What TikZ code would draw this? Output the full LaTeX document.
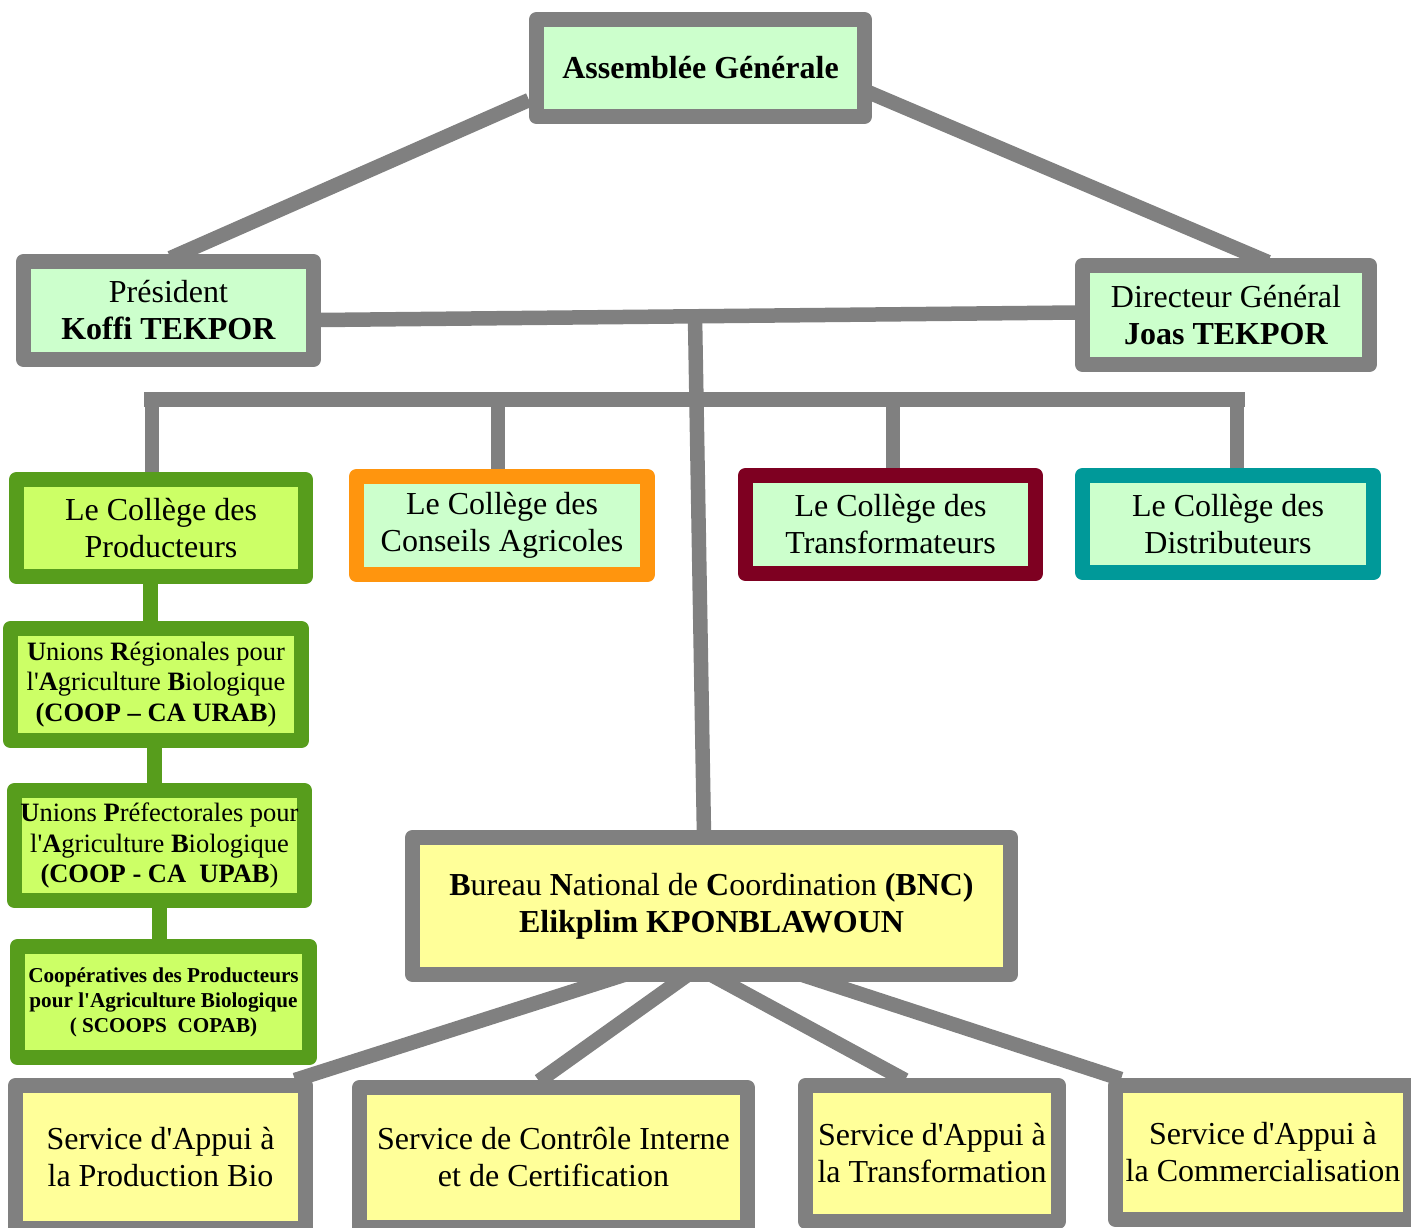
\documentclass[tikz,border=0pt]{standalone}
\usepackage{fontspec}
\setmainfont{Liberation Serif}[Ligatures=TeXOff]
\usetikzlibrary{backgrounds}
\definecolor{lgray}{HTML}{808080}
\definecolor{paleg}{HTML}{CCFFCC}
\definecolor{ygreen}{HTML}{CCFF66}
\definecolor{gbord}{HTML}{579D1C}
\definecolor{obord}{HTML}{FF950E}
\definecolor{rbord}{HTML}{7E0021}
\definecolor{tbord}{HTML}{009999}
\definecolor{yell}{HTML}{FFFF99}
\begin{document}
\begin{tikzpicture}[x=1pt,y=-1pt,
  box/.style={draw=lgray, line width=15pt, line join=round, fill=paleg, inner sep=0pt,
    align=center, text=black, font=\fontsize{32}{37}\selectfont},
  gbox/.style={box, draw=gbord, fill=ygreen},
  ybox/.style={box, fill=yell},
  small/.style={font=\fontsize{26.5}{30.5}\selectfont},
  tiny/.style={font=\fontsize{21.2}{25}\selectfont\bfseries},
  conn/.style={draw=lgray, line width=14.5pt, line cap=butt},
  gconn/.style={draw=gbord, line width=15pt, line cap=butt}]
\useasboundingbox (0,0) rectangle (1411,1227);

% boxes
\node[box, minimum width=328pt, minimum height=97pt] (ag) at (700.5,68) {\textbf{Assemblée Générale}};
\node[box, minimum width=290pt, minimum height=98pt] (pres) at (168.5,310.5) {Président\\\textbf{Koffi TEKPOR}};
\node[box, minimum width=287pt, minimum height=99pt] (dir) at (1226,315) {Directeur Général\\\textbf{Joas TEKPOR}};
\node[gbox, minimum width=289pt, minimum height=97pt] (cp) at (161,528) {Le Collège des\\Producteurs};
\node[box, draw=obord, minimum width=291pt, minimum height=98pt] (cca) at (502,525.5) {Le Collège des\\Conseils Agricoles};
\node[box, draw=rbord, minimum width=290pt, minimum height=98pt] (ct) at (890.5,524.5) {Le Collège des\\Transformateurs};
\node[box, draw=tbord, minimum width=291pt, minimum height=97pt] (cd) at (1228,524) {Le Collège des\\Distributeurs};
\node[gbox, small, minimum width=291pt, minimum height=112pt] (ur) at (156,684.5)
  {\textbf{U}nions \textbf{R}égionales pour\\l'\textbf{A}griculture \textbf{B}iologique\\\textbf{(COOP – CA URAB})};
\node[gbox, small, minimum width=290pt, minimum height=110pt] (up) at (159.5,845.5)
  {\textbf{U}nions \textbf{P}réfectorales pour\\l'\textbf{A}griculture \textbf{B}iologique\\\textbf{(COOP - CA\ \ UPAB})};
\node[gbox, tiny, minimum width=292pt, minimum height=111pt] (coop) at (163.5,1002)
  {Coopératives des Producteurs\\pour l'Agriculture Biologique\\( SCOOPS\ \ COPAB)};
\node[ybox, minimum width=598pt, minimum height=137pt] (bnc) at (711.5,906)
  {\textbf{B}ureau \textbf{N}ational de \textbf{C}oordination \textbf{(BNC)}\\\textbf{Elikplim KPONBLAWOUN}};
\node[ybox, minimum width=290pt, minimum height=143pt] (s1) at (160.5,1157) {Service d'Appui à\\la Production Bio};
\node[ybox, minimum width=388pt, minimum height=140pt] (s2) at (553.5,1157.5) {Service de Contrôle Interne\\et de Certification};
\node[ybox, minimum width=253pt, minimum height=136pt] (s3) at (932,1153.5) {Service d'Appui à\\la Transformation};
\node[ybox, minimum width=295pt, minimum height=134pt] (s4) at (1263,1152.5) {Service d'Appui à\\la Commercialisation};

\coordinate (j1) at (695,317);
\coordinate (bl) at (144,399.5);
\coordinate (br) at (1245,399.5);
\coordinate (d1) at (152,392);
\coordinate (d2) at (498,392);
\coordinate (d3) at (893,392);
\coordinate (d4) at (1237,392);

% connectors
\begin{scope}[on background layer]
\fill[white] (0,0) rectangle (1411,1227);
\draw[conn] ([yshift=-32pt]ag.west) -- ([xshift=2pt,yshift=-4pt]pres.north);
\draw[conn] ([xshift=-4pt,yshift=-24pt]ag.east) -- ([xshift=42pt,yshift=-4pt]dir.north);
\draw[conn] ([xshift=-2pt,yshift=-9.5pt]pres.east) -- ([xshift=2pt,yshift=2.5pt]dir.west);
\draw[conn] (j1) -- ([xshift=-7.5pt,yshift=-6pt]bnc.north);
\draw[conn, line width=15pt] (bl) -- (br);
\draw[conn] (d1) -- ([yshift=-4pt]d1 |- cp.north);
\draw[conn] (d2) -- ([yshift=-4pt]d2 |- cca.north);
\draw[conn] (d3) -- ([yshift=-4pt]d3 |- ct.north);
\draw[conn] (d4) -- ([yshift=-4pt]d4 |- cd.north);
\draw[gconn] ([xshift=-11pt]cp.south) -- ([xshift=-6pt]ur.north);
\draw[gconn] ([xshift=-1.5pt]ur.south) -- ([xshift=-5pt]up.north);
\draw[gconn] (up.south) -- ([xshift=-4pt]coop.north);
\draw[conn] ([xshift=-59.5pt,yshift=16pt]bnc.south) -- ([xshift=134.5pt,yshift=-2pt]s1.north);
\draw[conn] ([xshift=-11.5pt,yshift=16pt]bnc.south) -- ([xshift=-14.5pt,yshift=-1pt]s2.north);
\draw[conn] ([xshift=-16.5pt,yshift=16pt]bnc.south) -- ([xshift=-27pt,yshift=-2pt]s3.north);
\draw[conn] ([xshift=63.5pt,yshift=16pt]bnc.south) -- ([xshift=-142pt,yshift=-1pt]s4.north);
\end{scope}
\end{tikzpicture}
\end{document}
